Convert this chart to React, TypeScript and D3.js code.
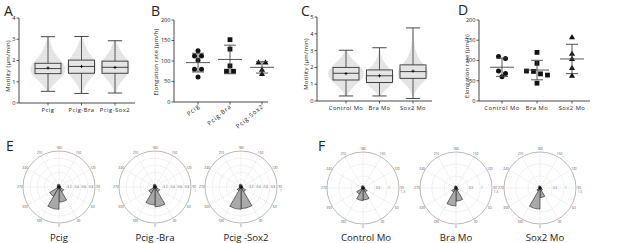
import React from 'react';
import * as d3 from 'd3';

const FONT = "'Open Sans', 'DejaVu Sans', sans-serif";

// ---------- Panel A : motility box plots ----------
const catsA = ['Pcig', 'Pcig-Bra', 'Pcig-Sox2'];
const minA = [0.55, 0.45, 0.47];
const q1A = [1.38, 1.4, 1.4];
const medA = [1.62, 1.72, 1.68];
const q3A = [1.87, 2.02, 1.97];
const maxA = [3.12, 3.13, 2.93];
const meanA = [1.65, 1.72, 1.67];
const ticksA = [0, 1, 2, 3, 4];
const swarmLevelsA = [0.5, 0.75, 1, 1.25, 1.5, 1.75, 2, 2.25, 2.5, 2.75, 3, 3.25];
const swarmPcig = [0.1, 0.2, 0.45, 0.8, 1.0, 0.95, 0.72, 0.45, 0.28, 0.15, 0.08, 0.03];
const swarmPcigBra = [0.08, 0.16, 0.35, 0.62, 0.82, 0.85, 0.75, 0.5, 0.32, 0.18, 0.09, 0.04];
const swarmPcigSox2 = [0.08, 0.14, 0.32, 0.62, 0.8, 0.84, 0.74, 0.46, 0.28, 0.14, 0.06, 0.02];

// ---------- Panel B : elongation rate ----------
const catsB = ['Pcig', 'Pcig-Bra', 'Pcig-Sox2'];
const bPcig = [125, 112, 112, 102, 80, 80, 61];
const bPcigBra = [152, 129, 88, 75, 75];
const bPcigSox2 = [96, 96, 78, 68];
const ticksB = [0, 50, 100, 150, 200];

// ---------- Panel C : motility box plots (morphants) ----------
const catsC = ['Control Mo', 'Bra Mo', 'Sox2 Mo'];
const minC = [0.3, 0.3, 0.15];
const q1C = [1.25, 1.1, 1.35];
const medC = [1.65, 1.5, 1.75];
const q3C = [2.0, 1.85, 2.15];
const maxC = [3.02, 3.17, 4.35];
const meanC = [1.63, 1.5, 1.78];
const ticksC = [0, 1, 2, 3, 4, 5];
const swarmLevelsC = [0.25, 0.5, 0.75, 1, 1.25, 1.5, 1.75, 2, 2.25, 2.5, 2.75, 3, 3.25, 3.5, 3.75, 4, 4.25, 4.5];
const swarmControl = [0.05, 0.15, 0.32, 0.58, 0.85, 1.0, 1.0, 0.85, 0.6, 0.35, 0.16, 0.06, 0.03, 0, 0, 0, 0, 0];
const swarmBra = [0.05, 0.2, 0.42, 0.7, 0.82, 0.82, 0.7, 0.5, 0.3, 0.16, 0.08, 0.04, 0.02, 0, 0, 0, 0, 0];
const swarmSox2 = [0.03, 0.1, 0.22, 0.45, 0.7, 0.86, 0.86, 0.74, 0.52, 0.35, 0.22, 0.14, 0.1, 0.07, 0.05, 0.04, 0.03, 0.02];

// ---------- Panel D : elongation rate (morphants) ----------
const catsD = ['Control Mo', 'Bra Mo', 'Sox2 Mo'];
const dControl = [110, 105, 74, 68, 60];
const dBra = [120, 93, 74, 73, 67, 64, 44];
const dSox2 = [157, 116, 103, 81, 62];
const ticksD = [0, 50, 100, 150, 200];

// ---------- Panels E / F : rose plots (30° bins from 0°) ----------
const angleLabels = [0, 30, 60, 90, 120, 150, 180, 210, 240, 270, 300, 330];
const ringsE = [0.2, 0.4, 0.6, 0.8, 1.0];
const ringsF = [0.5, 1, 1.5];
const namesE = ['Pcig', 'Pcig -Bra', 'Pcig -Sox2'];
const namesF = ['Control Mo', 'Bra Mo', 'Sox2 Mo'];
const roseE1 = [0.42, 0.15, 0.05, 0.04, 0.04, 0.06, 0.08, 0.06, 0.05, 0.05, 0.3, 0.62];
const roseE2 = [0.55, 0.15, 0.05, 0.04, 0.04, 0.06, 0.08, 0.06, 0.05, 0.05, 0.2, 0.5];
const roseE3 = [0.6, 0.15, 0.05, 0.04, 0.04, 0.06, 0.08, 0.06, 0.05, 0.05, 0.12, 0.62];
const roseF1 = [0.5, 0.2, 0.08, 0.06, 0.06, 0.08, 0.1, 0.08, 0.06, 0.06, 0.3, 0.52];
const roseF2 = [0.55, 0.12, 0.06, 0.05, 0.05, 0.07, 0.09, 0.07, 0.05, 0.05, 0.2, 0.75];
const roseF3 = [0.4, 0.12, 0.06, 0.05, 0.05, 0.07, 0.09, 0.07, 0.05, 0.05, 0.15, 0.88];

const AX = '#333';
const TXT = '#222';

function YAxis({ x, y, ticks, title, titleX, titleY, titleSize = 6 }: any) {
  const [r0, r1] = y.range();
  return (
    <g>
      <line x1={x} x2={x} y1={r0} y2={r1} stroke={AX} strokeWidth={0.9} />
      {ticks.map((t: number) => (
        <g key={t}>
          <line x1={x - 2.5} x2={x} y1={y(t)} y2={y(t)} stroke={AX} strokeWidth={0.8} />
          <text x={x - 3.5} y={y(t)} dy="0.35em" textAnchor="end" fontSize={5.6} fill={TXT}>{t}</text>
        </g>
      ))}
      <text transform={`translate(${titleX},${titleY}) rotate(-90)`} textAnchor="middle" fontSize={titleSize}
        letterSpacing={0.2} fill={TXT}>{title}</text>
    </g>
  );
}

function XAxis({ x0, x1, y0, xs }: any) {
  return (
    <g>
      <line x1={x0} x2={x1} y1={y0} y2={y0} stroke={AX} strokeWidth={0.9} />
      {xs.map((cx: number, i: number) => (
        <line key={i} x1={cx} x2={cx} y1={y0} y2={y0 + 2.5} stroke={AX} strokeWidth={0.8} />
      ))}
    </g>
  );
}

function BoxSwarm({ cats, mins, q1s, meds, q3s, maxs, means, levels, dens, x, y, boxW, half }: any) {
  return (
    <g>
      {cats.map((c: string, i: number) => {
        const cx = x(c);
        const interp = d3.scaleLinear().domain(levels).range(dens[i]).clamp(true);
        const lo = mins[i], hi = maxs[i];
        const pts = [{ v: lo, d: interp(lo) * 0.5 }]
          .concat(levels.filter((l: number) => l > lo && l < hi).map((l: number) => ({ v: l, d: interp(l) })))
          .concat([{ v: hi, d: interp(hi) * 0.5 }]);
        const area = d3.area<any>()
          .y((p) => y(p.v))
          .x0((p) => cx - half * p.d)
          .x1((p) => cx + half * p.d)
          .curve(d3.curveBasis);
        const cap = boxW * 0.55;
        return (
          <g key={c}>
            <path d={area(pts) || ''} fill="url(#dots)" />
            <line x1={cx} x2={cx} y1={y(maxs[i])} y2={y(q3s[i])} stroke={AX} strokeWidth={0.8} />
            <line x1={cx} x2={cx} y1={y(q1s[i])} y2={y(mins[i])} stroke={AX} strokeWidth={0.8} />
            <line x1={cx - cap / 2} x2={cx + cap / 2} y1={y(maxs[i])} y2={y(maxs[i])} stroke={AX} strokeWidth={0.9} />
            <line x1={cx - cap / 2} x2={cx + cap / 2} y1={y(mins[i])} y2={y(mins[i])} stroke={AX} strokeWidth={0.9} />
            <rect x={cx - boxW / 2} y={y(q3s[i])} width={boxW} height={y(q1s[i]) - y(q3s[i])}
              fill="none" stroke={AX} strokeWidth={0.9} />
            <line x1={cx - boxW / 2} x2={cx + boxW / 2} y1={y(meds[i])} y2={y(meds[i])} stroke={AX} strokeWidth={0.9} />
            <line x1={cx - 1.6} x2={cx + 1.6} y1={y(means[i])} y2={y(means[i])} stroke="#000" strokeWidth={0.8} />
            <line x1={cx} x2={cx} y1={y(means[i]) - 1.6} y2={y(means[i]) + 1.6} stroke="#000" strokeWidth={0.8} />
          </g>
        );
      })}
    </g>
  );
}

function rowOffsets(vals: number[], y: any, thresh: number, step: number) {
  const idx = vals.map((_, i) => i).sort((a, b) => vals[b] - vals[a]);
  const off = new Array(vals.length).fill(0);
  let row: number[] = [];
  const flush = () => {
    const n = row.length;
    row.forEach((id, k) => { off[id] = (k - (n - 1) / 2) * step; });
    row = [];
  };
  idx.forEach((id) => {
    if (row.length && Math.abs(y(vals[row[row.length - 1]]) - y(vals[id])) > thresh) flush();
    row.push(id);
  });
  flush();
  return off;
}

function Marker({ shape, cx, cy }: any) {
  if (shape === 'circle') return <circle cx={cx} cy={cy} r={2.5} fill="#111" />;
  if (shape === 'square') return <rect x={cx - 2.4} y={cy - 2.4} width={4.8} height={4.8} fill="#111" />;
  const s = d3.symbol().type(d3.symbolTriangle).size(16)();
  return <path d={s || ''} transform={`translate(${cx},${cy})`} fill="#111" />;
}

function Scatter({ cats, groups, shapes, x, y }: any) {
  return (
    <g>
      {cats.map((c: string, i: number) => {
        const vals: number[] = groups[i];
        const cx = x(c);
        const m = d3.mean(vals) as number;
        const sd = d3.deviation(vals) as number;
        const off = rowOffsets(vals, y, 3.0, 7);
        return (
          <g key={c}>
            {vals.map((v, k) => <Marker key={k} shape={shapes[i]} cx={cx + off[k]} cy={y(v)} />)}
            <line x1={cx - 12} x2={cx + 12} y1={y(m)} y2={y(m)} stroke="#444" strokeWidth={0.9} />
            <line x1={cx} x2={cx} y1={y(m + sd)} y2={y(m - sd)} stroke="#444" strokeWidth={0.9} />
            <line x1={cx - 6} x2={cx + 6} y1={y(m + sd)} y2={y(m + sd)} stroke="#444" strokeWidth={0.9} />
            <line x1={cx - 6} x2={cx + 6} y1={y(m - sd)} y2={y(m - sd)} stroke="#444" strokeWidth={0.9} />
          </g>
        );
      })}
    </g>
  );
}

function Rose({ cx, cy, R, rings, bins, name, nameX }: any) {
  const rmax = rings[rings.length - 1];
  const r = d3.scaleLinear().domain([0, rmax]).range([0, R]);
  const rad = (deg: number) => (deg * Math.PI) / 180;
  const pos = (deg: number, rr: number) => [cx + rr * Math.sin(rad(deg)), cy + rr * Math.cos(rad(deg))];
  const arc = d3.arc<any>();
  const fmt = (v: number) => (rmax > 1.2 ? String(v) : v.toFixed(1));
  return (
    <g>
      {rings.slice(0, -1).map((v: number) => (
        <circle key={v} cx={cx} cy={cy} r={r(v)} fill="none" stroke="#cdcdcd" strokeWidth={0.5} strokeDasharray="1.2,1" />
      ))}
      {angleLabels.map((a) => {
        const [px, py] = pos(a, R);
        return <line key={a} x1={cx} y1={cy} x2={px} y2={py} stroke="#cdcdcd" strokeWidth={0.5} strokeDasharray="1.2,1" />;
      })}
      <circle cx={cx} cy={cy} r={R} fill="none" stroke="#8a8a8a" strokeWidth={0.6} />
      {angleLabels.map((a) => {
        const [px, py] = pos(a, R + 3.2);
        return <text key={a} x={px} y={py} dy="0.35em" textAnchor="middle" fontSize={3.2} fill="#555">{a}</text>;
      })}
      {rings.slice(0, -1).map((v: number) => (
        <text key={v} x={cx + r(v) + 1} y={cy - 0.3} dy="0.35em" fontSize={3.1} fill="#555">{fmt(v)}</text>
      ))}
      <text x={cx + R + 4} y={cy + 3.6} dy="0.35em" textAnchor="middle" fontSize={3.1} fill="#555">{rmax}</text>
      {bins.map((v: number, i: number) => {
        const a0 = i * 30;
        const d = arc({ innerRadius: 0, outerRadius: r(v), startAngle: Math.PI - rad(a0 + 30), endAngle: Math.PI - rad(a0) });
        return <path key={i} d={d || ''} transform={`translate(${cx},${cy})`} fill="#a9a9a9" stroke="#222" strokeWidth={0.6} strokeLinejoin="round" />;
      })}
      <circle cx={cx} cy={cy} r={1.6} fill="#111" />
      <text x={nameX} y={241} textAnchor="middle" fontSize={9.6} fill={TXT}>{name}</text>
    </g>
  );
}

export default function App() {
  const xA = d3.scalePoint<string>().domain(catsA).range([48, 115]);
  const yA = d3.scaleLinear().domain([0, 4]).range([103, 18]);
  const xB = d3.scalePoint<string>().domain(catsB).range([198, 262]);
  const yB = d3.scaleLinear().domain([0, 200]).range([102, 20]);
  const xC = d3.scalePoint<string>().domain(catsC).range([346, 413]);
  const yC = d3.scaleLinear().domain([0, 5]).range([101, 17]);
  const xD = d3.scalePoint<string>().domain(catsD).range([502, 572]);
  const yD = d3.scaleLinear().domain([0, 200]).range([101, 20]);

  const eCenters = [59, 155, 241];
  const fCenters = [363, 456, 540];
  const eNameX = [59, 155, 246];
  const fNameX = [366, 456, 545];

  return (
    <svg width={617} height={243} style={{ position: 'absolute', left: 0, top: 0, background: '#fff' }} fontFamily={FONT}>
      <defs>
        <pattern id="dots" width={2} height={2} patternUnits="userSpaceOnUse">
          <rect width={2} height={2} fill="#f1f1f1" />
          <circle cx={1} cy={1} r={0.6} fill="#bcbcbc" />
        </pattern>
      </defs>

      {/* Panel letters */}
      <text x={4} y={15.5} fontSize={14} fill={TXT}>A</text>
      <text x={151} y={15.5} fontSize={14} fill={TXT}>B</text>
      <text x={301} y={15.5} fontSize={14} fill={TXT}>C</text>
      <text x={458} y={14.5} fontSize={14} fill={TXT}>D</text>
      <text x={6} y={151} fontSize={14} fill={TXT}>E</text>
      <text x={318} y={151} fontSize={14} fill={TXT}>F</text>

      {/* A */}
      <BoxSwarm cats={catsA} mins={minA} q1s={q1A} meds={medA} q3s={q3A} maxs={maxA} means={meanA}
        levels={swarmLevelsA} dens={[swarmPcig, swarmPcigBra, swarmPcigSox2]} x={xA} y={yA} boxW={26} half={18} />
      <YAxis x={19} y={yA} ticks={ticksA} title="Motility (µm/min)" titleX={10} titleY={66} />
      <XAxis x0={19} x1={135} y0={103} xs={catsA.map((c) => xA(c))} />
      {catsA.map((c) => (
        <text key={c} x={xA(c)} y={112} textAnchor="middle" fontSize={5.8} letterSpacing={0.5} fill={TXT}>{c}</text>
      ))}

      {/* B */}
      <Scatter cats={catsB} groups={[bPcig, bPcigBra, bPcigSox2]} shapes={['circle', 'square', 'triangle']} x={xB} y={yB} />
      <YAxis x={174} y={yB} ticks={ticksB} title="Elongation rate (µm/h)" titleX={158} titleY={62} />
      <XAxis x0={174} x1={268} y0={102} xs={catsB.map((c) => xB(c))} />
      {catsB.map((c) => (
        <text key={c} transform={`translate(${(xB(c) as number) + 2},${107}) rotate(-40)`} textAnchor="end"
          fontSize={6} letterSpacing={0.8} fill={TXT}>{c}</text>
      ))}

      {/* C */}
      <BoxSwarm cats={catsC} mins={minC} q1s={q1C} meds={medC} q3s={q3C} maxs={maxC} means={meanC}
        levels={swarmLevelsC} dens={[swarmControl, swarmBra, swarmSox2]} x={xC} y={yC} boxW={26} half={18} />
      <YAxis x={317} y={yC} ticks={ticksC} title="Motility (µm/min)" titleX={308} titleY={64} />
      <XAxis x0={317} x1={432} y0={101} xs={catsC.map((c) => xC(c))} />
      {catsC.map((c) => (
        <text key={c} x={xC(c)} y={110} textAnchor="middle" fontSize={5.8} letterSpacing={0.4} fill={TXT}>{c}</text>
      ))}

      {/* D */}
      <Scatter cats={catsD} groups={[dControl, dBra, dSox2]} shapes={['circle', 'square', 'triangle']} x={xD} y={yD} />
      <YAxis x={479} y={yD} ticks={ticksD} title="Elongation rate (µm/h)" titleX={469} titleY={66} titleSize={5.7} />
      <XAxis x0={479} x1={590} y0={101} xs={catsD.map((c) => xD(c))} />
      {catsD.map((c) => (
        <text key={c} x={xD(c)} y={110} textAnchor="middle" fontSize={5.8} letterSpacing={0.5} fill={TXT}>{c}</text>
      ))}

      {/* E */}
      {[roseE1, roseE2, roseE3].map((b, i) => (
        <Rose key={i} cx={eCenters[i]} cy={187} R={36} rings={ringsE} bins={b} name={namesE[i]} nameX={eNameX[i]} />
      ))}
      {/* F */}
      {[roseF1, roseF2, roseF3].map((b, i) => (
        <Rose key={i} cx={fCenters[i]} cy={188} R={36} rings={ringsF} bins={b} name={namesF[i]} nameX={fNameX[i]} />
      ))}
    </svg>
  );
}
